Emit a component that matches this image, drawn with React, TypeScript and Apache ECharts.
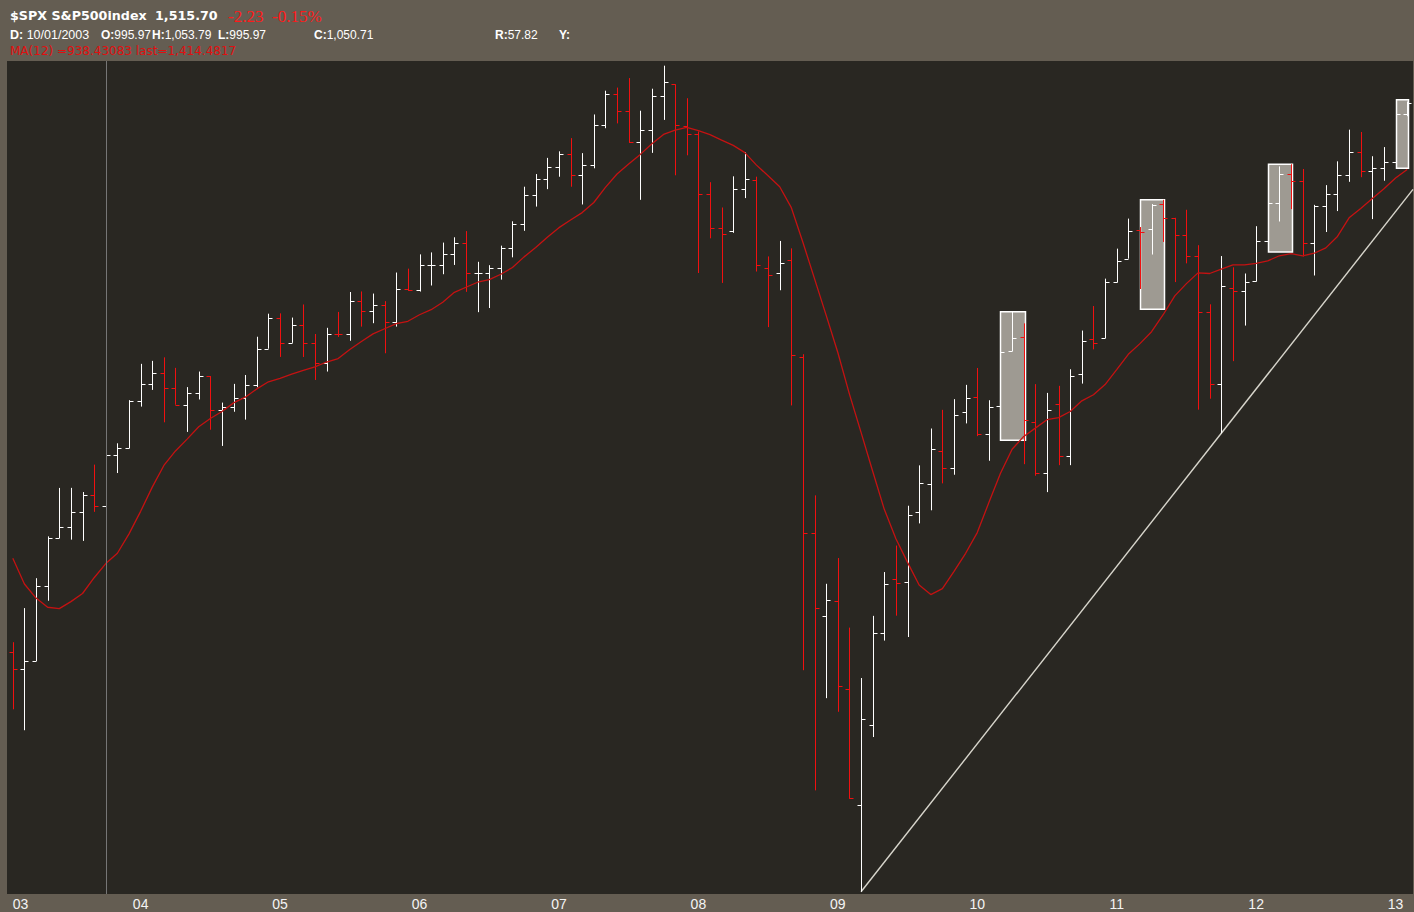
import React, { useEffect, useRef } from "react";
import * as echarts from "echarts";

// ---------- DATA (monthly S&P 500, Feb 2003 – Feb 2013) ----------
const months: string[] = [
  "2003-02","2003-03","2003-04","2003-05","2003-06","2003-07","2003-08","2003-09","2003-10","2003-11","2003-12",
  "2004-01","2004-02","2004-03","2004-04","2004-05","2004-06","2004-07","2004-08","2004-09","2004-10","2004-11","2004-12",
  "2005-01","2005-02","2005-03","2005-04","2005-05","2005-06","2005-07","2005-08","2005-09","2005-10","2005-11","2005-12",
  "2006-01","2006-02","2006-03","2006-04","2006-05","2006-06","2006-07","2006-08","2006-09","2006-10","2006-11","2006-12",
  "2007-01","2007-02","2007-03","2007-04","2007-05","2007-06","2007-07","2007-08","2007-09","2007-10","2007-11","2007-12",
  "2008-01","2008-02","2008-03","2008-04","2008-05","2008-06","2008-07","2008-08","2008-09","2008-10","2008-11","2008-12",
  "2009-01","2009-02","2009-03","2009-04","2009-05","2009-06","2009-07","2009-08","2009-09","2009-10","2009-11","2009-12",
  "2010-01","2010-02","2010-03","2010-04","2010-05","2010-06","2010-07","2010-08","2010-09","2010-10","2010-11","2010-12",
  "2011-01","2011-02","2011-03","2011-04","2011-05","2011-06","2011-07","2011-08","2011-09","2011-10","2011-11","2011-12",
  "2012-01","2012-02","2012-03","2012-04","2012-05","2012-06","2012-07","2012-08","2012-09","2012-10","2012-11","2012-12",
  "2013-01","2013-02",
];

const opens: number[] = [
  855.70, 841.15, 848.18, 916.92, 963.59, 974.50, 990.31, 1008.01, 995.97, 1050.71, 1058.20,
  1111.92, 1131.13, 1144.94, 1126.21, 1107.30, 1120.68, 1140.84, 1101.72, 1104.24, 1114.58, 1130.20, 1173.82,
  1211.92, 1181.27, 1203.60, 1180.59, 1156.85, 1191.50, 1191.33, 1234.18, 1220.33, 1228.81, 1207.01, 1249.48,
  1248.29, 1280.08, 1280.66, 1294.83, 1310.61, 1270.09, 1270.20, 1276.66, 1303.82, 1335.85, 1377.94, 1400.63,
  1418.30, 1438.24, 1406.82, 1420.86, 1482.37, 1530.62, 1503.35, 1455.27, 1473.99, 1526.75, 1545.79, 1479.63,
  1467.97, 1378.60, 1330.45, 1326.41, 1385.97, 1399.62, 1276.69, 1269.42, 1287.83, 1164.17, 968.67, 888.61,
  902.99, 823.09, 729.57, 793.59, 872.74, 923.26, 920.82, 990.22, 1019.52, 1054.91, 1036.18, 1098.89,
  1116.56, 1073.89, 1105.36, 1171.23, 1188.58, 1087.30, 1031.10, 1107.53, 1049.72, 1143.49, 1185.71, 1186.60,
  1257.62, 1289.14, 1328.64, 1329.48, 1365.21, 1345.20, 1320.64, 1292.59, 1219.12, 1131.21, 1251.00, 1246.91,
  1258.86, 1312.45, 1365.90, 1408.47, 1397.86, 1309.87, 1362.33, 1379.32, 1406.54, 1440.90, 1412.20, 1416.18,
  1426.19, 1498.11,
];

const highs: number[] = [
  864.64, 895.90, 924.24, 965.38, 1015.33, 1015.41, 1011.01, 1040.29, 1053.79, 1063.65, 1112.56,
  1155.38, 1158.98, 1163.23, 1150.57, 1127.74, 1146.18, 1140.84, 1109.68, 1131.54, 1142.05, 1188.46, 1217.33,
  1217.80, 1212.44, 1229.11, 1191.88, 1199.56, 1219.59, 1245.15, 1245.86, 1243.13, 1233.34, 1270.64, 1275.80,
  1294.90, 1297.57, 1310.88, 1318.16, 1326.70, 1284.93, 1280.42, 1306.74, 1340.28, 1389.45, 1407.89, 1431.81,
  1441.61, 1461.57, 1438.89, 1498.02, 1535.56, 1540.56, 1555.90, 1503.89, 1538.74, 1576.09, 1545.79, 1523.57,
  1471.77, 1396.02, 1359.68, 1404.57, 1440.24, 1404.05, 1292.17, 1313.15, 1303.04, 1167.03, 1007.51, 918.85,
  943.85, 877.86, 832.98, 888.70, 930.17, 956.23, 996.68, 1039.47, 1080.15, 1101.36, 1113.69, 1130.38,
  1150.45, 1112.42, 1180.69, 1219.80, 1205.13, 1131.23, 1120.95, 1129.24, 1148.90, 1196.14, 1227.08, 1262.60,
  1302.67, 1344.07, 1332.28, 1364.56, 1370.58, 1345.20, 1356.48, 1307.38, 1229.29, 1292.66, 1277.55, 1269.37,
  1333.47, 1378.04, 1419.15, 1422.38, 1415.32, 1363.46, 1391.74, 1426.68, 1474.51, 1470.96, 1434.27, 1448.00,
  1509.94, 1518.31,
];

const lows: number[] = [
  806.29, 788.90, 847.85, 902.83, 963.59, 962.10, 960.84, 990.36, 995.97, 1031.20, 1058.20,
  1105.08, 1124.44, 1087.16, 1107.23, 1076.32, 1113.32, 1078.78, 1060.72, 1099.18, 1090.19, 1127.60, 1173.76,
  1163.75, 1180.95, 1163.69, 1136.15, 1146.18, 1188.30, 1183.55, 1201.07, 1205.35, 1168.20, 1201.07, 1246.59,
  1245.74, 1253.61, 1268.42, 1280.74, 1245.34, 1219.29, 1224.54, 1261.30, 1290.93, 1327.10, 1360.98, 1385.93,
  1403.97, 1389.42, 1363.98, 1416.37, 1476.70, 1484.18, 1454.25, 1370.60, 1439.29, 1489.56, 1406.10, 1435.65,
  1270.05, 1316.75, 1256.98, 1324.35, 1373.07, 1272.00, 1200.44, 1247.45, 1106.42, 839.80, 741.02, 815.69,
  804.22, 734.52, 666.79, 783.32, 866.10, 888.86, 869.32, 978.51, 991.97, 1020.18, 1029.38, 1085.89,
  1071.59, 1044.50, 1105.36, 1170.69, 1040.78, 1028.33, 1010.91, 1039.70, 1039.70, 1131.87, 1173.00, 1186.60,
  1257.62, 1289.14, 1249.05, 1294.70, 1311.80, 1258.07, 1282.86, 1101.54, 1114.22, 1074.77, 1158.66, 1202.37,
  1258.86, 1312.45, 1340.03, 1357.38, 1291.98, 1266.74, 1325.41, 1354.65, 1396.56, 1403.28, 1343.35, 1398.11,
  1426.19, 1495.32,
];

const closes: number[] = [
  841.15, 848.18, 916.92, 963.59, 974.50, 990.31, 1008.01, 995.97, 1050.71, 1058.20, 1111.92,
  1131.13, 1144.94, 1126.21, 1107.30, 1120.68, 1140.84, 1101.72, 1104.24, 1114.58, 1130.20, 1173.82, 1211.92,
  1181.27, 1203.60, 1180.59, 1156.85, 1191.50, 1191.33, 1234.18, 1220.33, 1228.81, 1207.01, 1249.48, 1248.29,
  1280.08, 1280.66, 1294.83, 1310.61, 1270.09, 1270.20, 1276.66, 1303.82, 1335.85, 1377.94, 1400.63, 1418.30,
  1438.24, 1406.82, 1420.86, 1482.37, 1530.62, 1503.35, 1455.27, 1473.99, 1526.75, 1549.38, 1481.14, 1468.36,
  1378.55, 1330.63, 1322.70, 1385.59, 1400.38, 1280.00, 1267.38, 1282.83, 1166.36, 968.75, 896.24, 903.25,
  825.88, 735.09, 797.87, 872.81, 919.14, 919.32, 987.48, 1020.62, 1057.08, 1036.19, 1095.63, 1115.10,
  1073.87, 1104.49, 1169.43, 1186.69, 1089.41, 1030.71, 1101.60, 1049.33, 1141.20, 1183.26, 1180.55, 1257.64,
  1286.12, 1327.22, 1325.83, 1363.61, 1345.20, 1320.64, 1292.28, 1218.89, 1131.42, 1253.30, 1246.96, 1257.60,
  1312.41, 1365.68, 1408.47, 1397.91, 1310.33, 1362.16, 1379.32, 1406.58, 1440.67, 1412.16, 1416.18, 1426.19,
  1498.11, 1515.70,
];

// MA(12) of monthly closes
const ma12: number[] = [
  943.58, 918.65, 905.31, 896.69, 895.41, 901.97, 909.63, 924.69, 938.43, 948.59, 967.93,
  990.88, 1016.20, 1039.37, 1055.23, 1068.32, 1082.19, 1091.47, 1099.49, 1109.37, 1115.99, 1125.63, 1133.97,
  1138.14, 1143.03, 1147.56, 1151.69, 1157.59, 1161.80, 1172.84, 1182.51, 1192.03, 1198.43, 1204.74, 1207.77,
  1216.00, 1222.43, 1231.95, 1244.76, 1251.31, 1257.88, 1261.42, 1268.38, 1277.30, 1291.54, 1304.14, 1318.31,
  1331.49, 1342.00, 1352.50, 1366.82, 1388.53, 1407.96, 1422.84, 1437.02, 1452.93, 1467.22, 1473.92, 1478.10,
  1473.12, 1466.77, 1458.59, 1450.53, 1439.67, 1421.06, 1405.40, 1389.47, 1359.44, 1311.06, 1262.31, 1215.22,
  1169.17, 1119.54, 1075.80, 1033.07, 992.97, 962.91, 939.59, 917.73, 908.63, 914.25, 930.86, 948.52,
  969.18, 999.97, 1030.93, 1057.09, 1071.28, 1080.56, 1090.07, 1092.46, 1099.47, 1111.73, 1118.80, 1130.68,
  1148.37, 1166.93, 1179.96, 1194.71, 1216.02, 1240.18, 1256.07, 1270.20, 1269.39, 1275.23, 1280.76, 1280.76,
  1282.95, 1286.15, 1293.04, 1295.90, 1292.99, 1296.45, 1303.70, 1319.35, 1345.12, 1358.35, 1372.46, 1386.51,
  1401.98, 1414.48,
];

// Highlight boxes: from month to month, from near the MA up to the high
const boxStart: string[] = ["2010-03", "2011-03", "2012-02", "2013-01"];
const boxEnd: string[] = ["2010-05", "2011-05", "2012-04", "2013-02"];
const boxTop: number[] = [1219.80, 1370.58, 1422.38, 1521.0];
const boxBottom: number[] = [1066.9, 1223.0, 1298.0, 1416.6];

// Trendline anchors (Mar 2009 low, Oct 2011 low)
const trendFrom = { month: "2009-03", value: 666.79 };
const trendTo = { month: "2011-10", value: 1074.77 };

// Cursor month
const cursorMonth = "2003-10";

// Y range (log scale)
const yMin = 665.2;
const yMax = 1583.8;

// ---------- STYLE ----------
const FRAME = "#645d52";
const PLOT = "#292722";
const UP = "#ffffff";
const DOWN = "#f01010";
const MA_COLOR = "#c41212";
const FONT = "DejaVu Sans";
const FONT2 = "Liberation Sans";

export default function App() {
  const ref = useRef<HTMLDivElement>(null);

  useEffect(() => {
    if (!ref.current) return;
    const chart = echarts.init(ref.current, null, { renderer: "svg" });

    const ohlcData = months.map((m, i) => [i, opens[i], closes[i], lows[i], highs[i]]);
    const boxData = boxStart.map((s, k) => [
      months.indexOf(s),
      months.indexOf(boxEnd[k]),
      boxBottom[k],
      boxTop[k],
    ]);
    const trendData = [[
      months.indexOf(trendFrom.month),
      trendFrom.value,
      months.indexOf(trendTo.month),
      trendTo.value,
    ]];

    const hdr = (x: number, y: number, text: string, size: number, family: string) => ({
      type: "text",
      x,
      y,
      silent: true,
      style: {
        text,
        fill: "#ffffff",
        fontFamily: family,
        fontSize: size,
        verticalAlign: "middle",
        rich: {
          b: { fontWeight: "bold", fontFamily: family, fontSize: size, fill: "#ffffff" },
          n: { fontWeight: "normal", fontFamily: family, fontSize: size, fill: "#ffffff" },
        },
      },
    });

    const option: any = {
      animation: false,
      backgroundColor: FRAME,
      grid: {
        left: 7,
        right: 1,
        top: 61,
        bottom: 18,
        show: true,
        backgroundColor: PLOT,
        borderWidth: 0,
      },
      xAxis: {
        type: "category",
        boundaryGap: true,
        data: months.map((m, i) =>
          i === 0 ? { value: m, textStyle: { align: "left" } } : m
        ),
        axisLine: { show: false },
        axisTick: { show: false },
        splitLine: { show: false },
        axisLabel: {
          interval: (index: number, value: string) => index === 0 || value.endsWith("-01"),
          formatter: (value: string) => value.slice(2, 4),
          color: "#f4f4f4",
          fontFamily: FONT2,
          fontSize: 14,
          margin: 3,
          hideOverlap: false,
        },
      },
      yAxis: {
        type: "log",
        logBase: 10,
        min: yMin,
        max: yMax,
        axisLine: { show: false },
        axisTick: { show: false },
        axisLabel: { show: false },
        splitLine: { show: false },
      },
      series: [
        {
          name: "boxes",
          type: "custom",
          z: 1,
          silent: true,
          data: boxData,
          encode: { x: [0, 1], y: [2, 3] },
          renderItem: (params: any, api: any) => {
            const p1 = api.coord([api.value(0), api.value(3)]);
            const p2 = api.coord([api.value(1), api.value(2)]);
            const x1 = Math.round(p1[0]) + 0.5;
            const x2 = Math.round(p2[0]) + 1.5;
            return {
              type: "rect",
              shape: { x: x1, y: p1[1], width: x2 - x1, height: p2[1] - p1[1] },
              style: { fill: "#9e9a92", stroke: "#ffffff", lineWidth: 1.5 },
            };
          },
          markLine: {
            silent: true,
            symbol: ["none", "none"],
            label: { show: false },
            lineStyle: { color: "#767676", width: 1, type: "solid" },
            data: [{ xAxis: cursorMonth }],
          },
        },
        {
          name: "trend",
          type: "custom",
          z: 2,
          silent: true,
          data: trendData,
          encode: { x: [0, 2], y: [1, 3] },
          renderItem: (params: any, api: any) => {
            const cs = params.coordSys;
            const p1 = api.coord([api.value(0), api.value(1)]);
            const p2 = api.coord([api.value(2), api.value(3)]);
            const slope = (p2[1] - p1[1]) / (p2[0] - p1[0]);
            const xEnd = cs.x + cs.width;
            const yEnd = p1[1] + slope * (xEnd - p1[0]);
            return {
              type: "line",
              shape: { x1: p1[0], y1: p1[1], x2: xEnd, y2: yEnd },
              style: { stroke: "#d8d6cc", lineWidth: 1.4 },
            };
          },
        },
        {
          name: "$SPX",
          type: "custom",
          z: 3,
          silent: true,
          data: ohlcData,
          encode: { x: 0, y: [1, 2, 3, 4] },
          renderItem: (params: any, api: any) => {
            const i = api.value(0);
            const o = api.value(1);
            const c = api.value(2);
            const l = api.value(3);
            const h = api.value(4);
            const pH = api.coord([i, h]);
            const pL = api.coord([i, l]);
            const pO = api.coord([i, o]);
            const pC = api.coord([i, c]);
            const x = Math.round(pH[0]) + 0.5;
            const yo = Math.round(pO[1]) + 0.5;
            const yc = Math.round(pC[1]) + 0.5;
            const color = c >= o ? UP : DOWN;
            const st = { stroke: color, lineWidth: 1 };
            return {
              type: "group",
              children: [
                { type: "line", shape: { x1: x, y1: pH[1], x2: x, y2: pL[1] }, style: st },
                { type: "line", shape: { x1: x - 4, y1: yo, x2: x, y2: yo }, style: st },
                { type: "line", shape: { x1: x, y1: yc, x2: x + 4, y2: yc }, style: st },
              ],
            };
          },
        },
        {
          name: "MA(12)",
          type: "line",
          z: 4,
          silent: true,
          data: ma12,
          symbol: "none",
          lineStyle: { color: MA_COLOR, width: 1.3 },
        },
      ],
      graphic: [
        hdr(10, 15, "{b|$SPX S&P500index}", 12.7, FONT),
        hdr(155, 15, "{b|1,515.70}", 12.7, FONT),
        {
          type: "text",
          x: 228,
          y: 16,
          silent: true,
          style: {
            text: "-2.23",
            fill: "#ff1a1a",
            fontFamily: "Liberation Serif",
            fontSize: 17,
            verticalAlign: "middle",
          },
        },
        {
          type: "text",
          x: 272,
          y: 16,
          silent: true,
          style: {
            text: "-0.15%",
            fill: "#ff1a1a",
            fontFamily: "Liberation Serif",
            fontSize: 17,
            verticalAlign: "middle",
          },
        },
        hdr(10, 35, "{b|D:}{n| 10/01/2003}", 12.5, FONT2),
        hdr(101, 35, "{b|O:}{n|995.97}", 12, FONT2),
        hdr(152, 35, "{b|H:}{n|1,053.79}", 12, FONT2),
        hdr(218, 35, "{b|L:}{n|995.97}", 12, FONT2),
        hdr(314, 35, "{b|C:}{n|1,050.71}", 12, FONT2),
        hdr(495, 35, "{b|R:}{n|57.82}", 12, FONT2),
        hdr(559, 35, "{b|Y:}", 12, FONT2),
        {
          type: "text",
          x: 10,
          y: 51,
          silent: true,
          style: {
            text: "MA(12) =938.43083 last=1,414.4817",
            fill: "#e01010",
            fontFamily: FONT,
            fontSize: 12,
            verticalAlign: "middle",
          },
        },
      ],
    };

    chart.setOption(option);
    return () => chart.dispose();
  }, []);

  return (
    <div
      ref={ref}
      style={{ position: "absolute", left: 0, top: 0, width: 1414, height: 912 }}
    />
  );
}
